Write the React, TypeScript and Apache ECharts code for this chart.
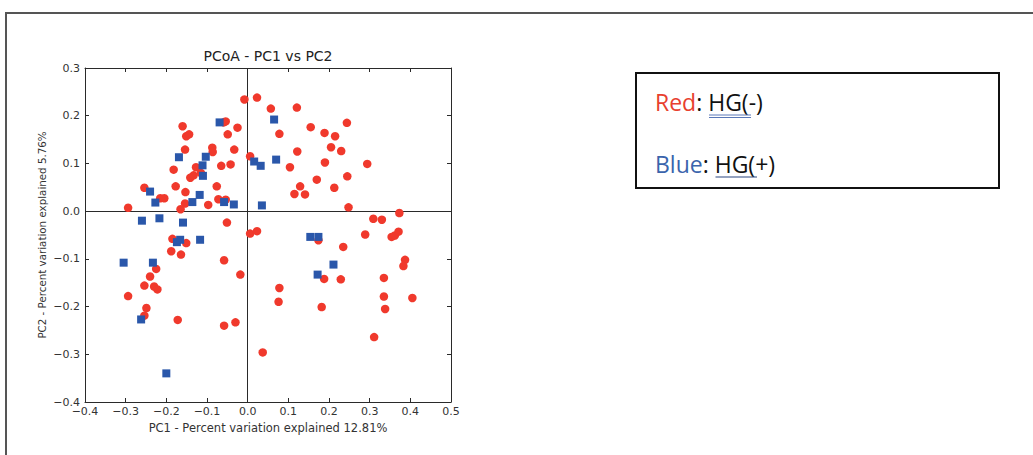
import React, { useEffect, useRef } from "react";
import * as echarts from "echarts";

// Red: HG(-) samples
const redX = [
  -0.008, 0.023, -0.059, -0.054, -0.16, -0.025, -0.151, -0.144, -0.049, -0.087,
  -0.154, -0.033, -0.086, 0.006, -0.182, -0.127, -0.065, -0.042, -0.141, -0.133,
  -0.115, -0.177, -0.076, -0.254, -0.153, -0.215, -0.205, -0.154, -0.072, -0.054,
  -0.097, -0.294, -0.165, -0.051, 0.006, 0.023, 0.057, 0.121, 0.244, 0.155,
  0.189, 0.215, 0.078, 0.122, 0.205, 0.23, 0.104, 0.19, 0.294, 0.245,
  0.17, 0.129, 0.213, 0.115, 0.141, 0.248, 0.309, 0.33, 0.373, 0.289,
  0.354, 0.362, 0.371, -0.185, -0.151, -0.188, -0.164, -0.058, -0.018, -0.225,
  -0.24, -0.254, -0.23, -0.222, -0.294, -0.249, -0.254, -0.172, -0.058, -0.03,
  0.037, 0.174, 0.235, 0.188, 0.229, 0.387, 0.383, 0.335, 0.078, 0.076,
  0.335, 0.405, 0.182, 0.338, 0.311,
];
const redY = [
  0.234, 0.238, 0.186, 0.188, 0.178, 0.175, 0.157, 0.161, 0.161, 0.133,
  0.129, 0.129, 0.124, 0.115, 0.087, 0.092, 0.095, 0.098, 0.07, 0.075,
  0.08, 0.052, 0.052, 0.049, 0.04, 0.027, 0.027, 0.016, 0.025, 0.024,
  0.013, 0.007, 0.004, -0.024, -0.047, -0.042, 0.215, 0.217, 0.185, 0.176,
  0.164, 0.157, 0.162, 0.125, 0.134, 0.126, 0.092, 0.102, 0.099, 0.073,
  0.066, 0.052, 0.049, 0.036, 0.035, 0.008, -0.016, -0.018, -0.004, -0.049,
  -0.054, -0.051, -0.043, -0.058, -0.067, -0.084, -0.091, -0.103, -0.133, -0.121,
  -0.137, -0.156, -0.158, -0.164, -0.178, -0.203, -0.219, -0.228, -0.24, -0.233,
  -0.296, -0.061, -0.075, -0.142, -0.143, -0.102, -0.115, -0.14, -0.161, -0.19,
  -0.179, -0.182, -0.201, -0.205, -0.264,
];

// Blue: HG(+) samples
const blueX = [
  -0.069, 0.065, -0.169, -0.103, 0.016, 0.032, 0.07, -0.111, -0.11, -0.24,
  -0.118, -0.227, -0.136, -0.058, -0.034, 0.035, -0.26, -0.217, -0.159, -0.174,
  -0.166, -0.117, -0.305, -0.233, -0.262, -0.2, 0.154, 0.174, 0.211, 0.172,
];
const blueY = [
  0.186, 0.192, 0.113, 0.114, 0.104, 0.095, 0.108, 0.096, 0.074, 0.041,
  0.034, 0.018, 0.019, 0.019, 0.014, 0.012, -0.02, -0.015, -0.024, -0.065,
  -0.06, -0.06, -0.108, -0.108, -0.227, -0.34, -0.054, -0.054, -0.112, -0.133,
];

const xMin = -0.4;
const xMax = 0.5;
const yMin = -0.4;
const yMax = 0.3;
const tickStep = 0.1;

const titleText = "PCoA - PC1 vs PC2";
const xName = "PC1 - Percent variation explained 12.81%";
const yName = "PC2 - Percent variation explained 5.76%";

const FONT = "DejaVu Sans";
const AXIS = "#2a2a2a";

function fmt(v: number): string {
  if (Math.abs(v) < 1e-9) return "0.0";
  const s = v.toFixed(1);
  return s.replace("-", "\u2212");
}

export default function App() {
  const ref = useRef<HTMLDivElement>(null);

  useEffect(() => {
    if (!ref.current) return;
    const chart = echarts.init(ref.current, null, { renderer: "svg" });

    const red = redX.map((x, i) => [x, redY[i]]);
    const blue = blueX.map((x, i) => [x, blueY[i]]);

    const axisLine = { show: true, onZero: false, lineStyle: { color: AXIS, width: 1 } };
    const axisTick = { show: true, inside: true, length: 4, lineStyle: { color: AXIS, width: 1 } };
    const label = { fontSize: 11, color: "#333", fontFamily: FONT };

    const legendFont = "Open Sans";
    const legendSize = 23;
    const legendRich = {
      r: { fill: "#e8402f", color: "#e8402f", fontSize: legendSize, fontFamily: legendFont },
      b: { fill: "#3a64ac", color: "#3a64ac", fontSize: legendSize, fontFamily: legendFont },
      k: { fill: "#111", color: "#111", fontSize: legendSize, fontFamily: legendFont },
    };

    chart.setOption({
      animation: false,
      backgroundColor: "#ffffff",
      grid: { left: 85, top: 68, width: 366, height: 334, containLabel: false },
      xAxis: [
        {
          type: "value",
          position: "bottom",
          min: xMin,
          max: xMax,
          interval: tickStep,
          axisLine,
          axisTick,
          splitLine: { show: false },
          axisLabel: { ...label, margin: 4, formatter: fmt, hideOverlap: false },
          name: xName,
          nameLocation: "middle",
          nameGap: 19,
          nameTextStyle: { fontSize: 11.5, color: "#333", fontFamily: FONT },
        },
        {
          type: "value",
          position: "top",
          min: xMin,
          max: xMax,
          interval: tickStep,
          axisLine,
          axisTick,
          splitLine: { show: false },
          axisLabel: { show: false },
        },
      ],
      yAxis: [
        {
          type: "value",
          position: "left",
          min: yMin,
          max: yMax,
          interval: tickStep,
          axisLine,
          axisTick,
          splitLine: { show: false },
          axisLabel: { ...label, margin: 5, formatter: fmt },
          name: yName,
          nameLocation: "middle",
          nameGap: 38,
          nameRotate: 90,
          nameTextStyle: { fontSize: 10.3, color: "#333", fontFamily: FONT },
        },
        {
          type: "value",
          position: "right",
          min: yMin,
          max: yMax,
          interval: tickStep,
          axisLine,
          axisTick,
          splitLine: { show: false },
          axisLabel: { show: false },
        },
      ],
      series: [
        {
          type: "scatter",
          xAxisIndex: 0,
          yAxisIndex: 0,
          data: red,
          symbol: "circle",
          symbolSize: 8.5,
          itemStyle: { color: "#f0392c", opacity: 1 },
          silent: true,
          z: 3,
          markLine: {
            silent: true,
            symbol: "none",
            label: { show: false },
            lineStyle: { color: AXIS, width: 1, type: "solid" },
            data: [{ xAxis: 0 }, { yAxis: 0 }],
            z: 2,
          },
        },
        {
          type: "scatter",
          xAxisIndex: 0,
          yAxisIndex: 0,
          data: blue,
          symbol: "rect",
          symbolSize: 8,
          itemStyle: { color: "#2a57aa", opacity: 1 },
          silent: true,
          z: 4,
        },
      ],
      graphic: [
        {
          type: "polyline",
          shape: { points: [[1033, 13], [6, 13], [6, 455]] },
          style: { stroke: "#555", lineWidth: 2, fill: "none" },
          silent: true,
        },
        {
          type: "text",
          x: 268,
          y: 56,
          style: {
            text: titleText,
            fill: "#222",
            font: `14px "${FONT}"`,
            align: "center",
            verticalAlign: "middle",
          },
          silent: true,
        },
        {
          type: "rect",
          shape: { x: 636, y: 73, width: 363, height: 115 },
          style: { stroke: "#111", lineWidth: 2, fill: "#fff" },
          silent: true,
        },
        {
          type: "text",
          x: 655,
          y: 102,
          style: {
            text: "{r|Red}{k|: HG(-)}",
            rich: legendRich,
            font: `${legendSize}px "${legendFont}"`,
            verticalAlign: "middle",
            align: "left",
          },
          silent: true,
        },
        {
          type: "line",
          shape: { x1: 709, y1: 115, x2: 751, y2: 115 },
          style: { stroke: "#5a78b8", lineWidth: 1 },
          silent: true,
        },
        {
          type: "line",
          shape: { x1: 709, y1: 117.5, x2: 751, y2: 117.5 },
          style: { stroke: "#5a78b8", lineWidth: 1 },
          silent: true,
        },
        {
          type: "text",
          x: 655,
          y: 164,
          style: {
            text: "{b|Blue}{k|: HG(+)}",
            rich: legendRich,
            font: `${legendSize}px "${legendFont}"`,
            verticalAlign: "middle",
            align: "left",
          },
          silent: true,
        },
        {
          type: "line",
          shape: { x1: 715.5, y1: 177, x2: 757, y2: 177 },
          style: { stroke: "#2b4680", lineWidth: 1.2 },
          silent: true,
        },
      ],
    });

    return () => chart.dispose();
  }, []);

  return (
    <div
      ref={ref}
      style={{ position: "absolute", left: 0, top: 0, width: 1033, height: 455 }}
    />
  );
}
